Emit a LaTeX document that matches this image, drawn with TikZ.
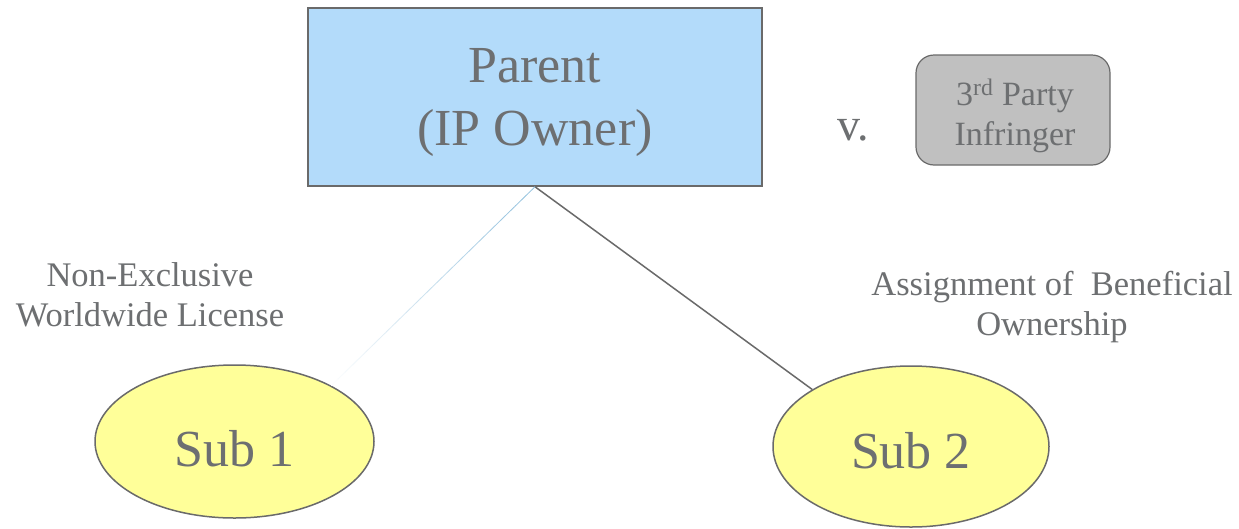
\documentclass[tikz,border=0pt]{standalone}
\usepackage{fontspec}
\setmainfont{Liberation Serif}
\usetikzlibrary{shapes.geometric,calc}
\definecolor{txtgray}{HTML}{6D6F71}
\definecolor{edgegray}{HTML}{6A6A6A}
\definecolor{parentblue}{HTML}{B3DBFA}
\definecolor{subyellow}{HTML}{FFFF99}
\definecolor{partygray}{HTML}{C0C0C0}
\definecolor{fadeblue}{HTML}{8FBFDD}
\tikzset{
  txt/.style={text=txtgray, inner sep=0pt, align=center},
  parentbox/.style={draw=edgegray, line width=1.5pt, fill=parentblue, minimum width=454pt, minimum height=178pt, inner sep=0pt},
  subell/.style={ellipse, draw=edgegray, line width=1.5pt, fill=subyellow, inner sep=0pt},
  partybox/.style={draw=edgegray, line width=1.2pt, fill=partygray, rounded corners=18pt, minimum width=194pt, minimum height=110pt, inner sep=0pt},
  conn/.style={draw=edgegray, line width=1.5pt},
}
\begin{document}
\begin{tikzpicture}[x=1pt,y=-1pt]
\useasboundingbox[fill=white] (0,0) rectangle (1239,528);
\node[parentbox] (parent) at (535,97) {};
\node[txt, font=\fontsize{52}{63}\selectfont] (ptext) at (535,103) {Parent\\(IP Owner)};
\node[partybox] (party) at (1013,110) {};
\node[txt, anchor=base, font=\fontsize{34}{40}\selectfont] (partytext) at (1015,145) {3\textsuperscript{rd} Party\\Infringer};
\node[txt, anchor=base, font=\fontsize{46}{50}\selectfont] (vs) at (853,140) {v.};
\node[subell, minimum width=279pt, minimum height=153pt] (sub1) at (234.5,441.5) {};
\node[txt, font=\fontsize{52}{60}\selectfont] (s1text) at (234.5,449) {Sub 1};
\node[subell, minimum width=276pt, minimum height=161pt] (sub2) at (911,446.5) {};
\node[txt, font=\fontsize{52}{60}\selectfont] (s2text) at (911,451) {Sub 2};
\node[txt, anchor=base, font=\fontsize{34.5}{40}\selectfont] (lic) at (150,326) {Non-Exclusive\\Worldwide License};
\node[txt, anchor=base, font=\fontsize{34.5}{40}\selectfont] (assign) at (1052,335) {Assignment of\ \ Beneficial\\Ownership};
\draw[conn] (parent.south) -- (sub2.150);
\coordinate (lstart) at (parent.south);
\coordinate (lend) at (sub1.30);
\foreach \i in {0,...,29}{
  \pgfmathtruncatemacro{\pct}{100-\i*100/30}
  \pgfmathsetmacro{\ta}{\i/30}
  \pgfmathsetmacro{\tb}{(\i+1)/30}
  \draw[color=fadeblue!\pct!white, line width=0.8pt] ($(lstart)!\ta!(lend)$) -- ($(lstart)!\tb!(lend)$);
}
\end{tikzpicture}
\end{document}
